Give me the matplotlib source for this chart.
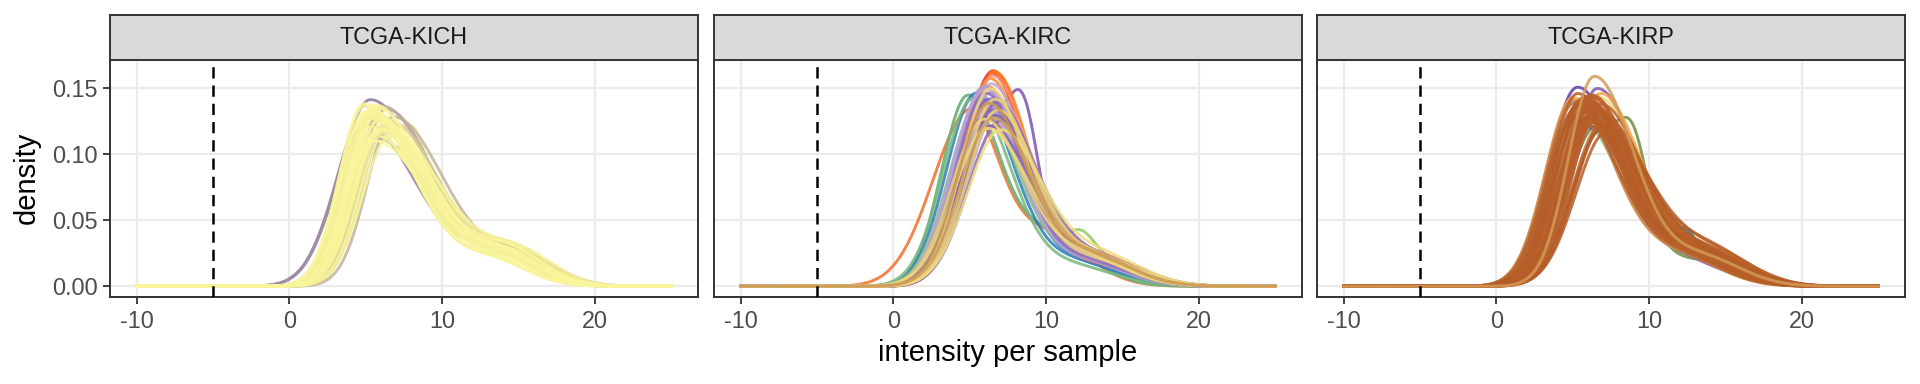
import numpy as np
import matplotlib as mpl
mpl.use('Agg')
import matplotlib.pyplot as plt

plt.rcParams['font.family'] = ['Liberation Sans', 'DejaVu Sans']
plt.rcParams['axes.unicode_minus'] = False

# Data -------------------------------------------------------------------------
panels = ["TCGA-KICH", "TCGA-KIRC", "TCGA-KIRP"]
x_ticks = [-10, 0, 10, 20]
y_ticks = [0.00, 0.05, 0.10, 0.15]
y_tick_labels = ["0.00", "0.05", "0.10", "0.15"]
cutoff = -5
x_min, x_max = -10, 25

# per-sample density curves: mode, height at mode, height of the right shoulder
kich_peak = [5.7, 6.3, 6.8, 5.9, 6.1, 6.5,
             5.7, 5.1, 6.1, 5.9, 4.9, 5.5, 6.4, 5.2, 5.6, 6.2, 5.0, 5.8, 5.3, 6.0,
             5.5, 5.1, 6.6, 5.7, 5.2, 5.9, 6.1, 5.4, 4.9, 5.6]
kich_height = [0.112, 0.134, 0.128, 0.120, 0.136, 0.125,
               0.130, 0.121, 0.118, 0.126, 0.136, 0.114, 0.122, 0.129, 0.137, 0.116, 0.132,
               0.125, 0.132, 0.120, 0.110, 0.131, 0.113, 0.135, 0.127, 0.119, 0.124, 0.133,
               0.138, 0.128]
kich_tail = [0.024, 0.018, 0.021, 0.023, 0.026, 0.019, 0.022, 0.025, 0.020, 0.027,
             0.018, 0.023, 0.021, 0.024, 0.019, 0.026, 0.017, 0.022, 0.020, 0.025, 0.023, 0.021,
             0.024, 0.018, 0.022, 0.026, 0.019, 0.021, 0.020, 0.022]
kich_colors = ["#A28FA2", "#B6A49E", "#C4B49A", "#CDBF97", "#BCAA9C", "#D8CD94",
               "#F3EE98", "#F8F39A", "#FAF69B", "#F6F199", "#EFE797", "#F8F49A", "#FBF79C", "#F4EE98",
               "#F9F59A", "#EAE296", "#FAF69B", "#F7F299", "#F9F59A", "#F2EC98", "#FBF79C", "#F8F39A",
               "#F6F199", "#FAF69B", "#F3EE98", "#F9F59A", "#FBF79C", "#F8F39A", "#FAF69B", "#F9F59A"]

kirc_peak = [5.4, 5.8, 5.2, 5.6, 6.4, 6.5, 6.3, 6.6, 6.1, 6.5, 6.8, 5.9, 6.2,
             6.0, 6.4, 5.8, 6.6, 6.2, 5.9, 6.7, 6.3, 6.1, 6.5, 5.7, 6.9,
             6.2, 6.5, 5.9, 6.8, 6.3, 6.0, 6.6, 7.0,
             6.3, 6.6, 6.1, 6.8, 5.9, 7.0, 6.2, 6.5]
kirc_height = [0.145, 0.140, 0.141, 0.137, 0.160, 0.162, 0.156, 0.161, 0.150, 0.158, 0.140, 0.130, 0.120,
               0.148, 0.152, 0.138, 0.142, 0.135, 0.150, 0.130, 0.145, 0.128, 0.140, 0.143, 0.133,
               0.140, 0.132, 0.126, 0.138, 0.120, 0.145, 0.128, 0.124,
               0.148, 0.140, 0.118, 0.132, 0.125, 0.117, 0.137, 0.126]
kirc_tail = [0.018, 0.016, 0.015, 0.020, 0.018, 0.016, 0.019, 0.018, 0.020, 0.021, 0.023, 0.019, 0.022,
             0.020, 0.018, 0.021, 0.019, 0.022, 0.018, 0.021, 0.020, 0.023, 0.017, 0.021, 0.019,
             0.020, 0.022, 0.024, 0.018, 0.021, 0.019, 0.022, 0.020,
             0.020, 0.022, 0.024, 0.021, 0.022, 0.023, 0.024, 0.021]
kirc_colors = ["#2B7BBA", "#3A88C0", "#78B77E", "#82C08A", "#E8302A", "#F0442B", "#FF8A1C", "#FF7F16",
               "#FB9A35", "#F79476", "#F2A07F", "#F08658", "#F49070",
               "#B8A2D4", "#BCA7D6", "#B39CD0", "#C0ACD9", "#B8A2D4", "#B49ED1", "#BDA8D7", "#B8A2D4",
               "#C2AEDA", "#B5A0D2", "#BAA4D5", "#B8A2D4",
               "#8663B6", "#8B69BA", "#8260B3", "#8966B8", "#8663B6", "#8E6DBC", "#8462B5", "#8966B8",
               "#EDD77A", "#EBD378", "#EFDA7E", "#E9D176", "#EDD77A", "#F0DB80", "#C99550", "#CFA05C"]

kirp_peak = [6.6, 5.8, 5.0, 6.8, 6.6, 6.0, 6.7, 6.2, 5.2,
             5.0, 5.6, 6.9, 5.8, 6.2, 7.1, 5.3, 6.9, 6.1, 5.7, 6.3, 6.5, 5.1, 6.0, 7.2, 5.4, 6.2,
             6.6, 5.8, 6.1, 6.7, 5.5, 6.3, 6.0, 5.9, 6.8, 6.2, 5.6, 7.0, 6.1, 5.2, 6.4, 6.0,
             6.3, 5.7, 6.7, 6.1, 5.9, 6.2, 6.5, 5.4, 6.0, 6.4, 6.2, 6.4]
kirp_height = [0.149, 0.120, 0.142, 0.145, 0.130, 0.138, 0.142, 0.133, 0.128,
               0.140, 0.132, 0.122, 0.143, 0.137, 0.125, 0.145, 0.118, 0.134, 0.139, 0.131, 0.127,
               0.138, 0.124, 0.116, 0.136, 0.144, 0.130, 0.138, 0.125, 0.133, 0.140, 0.128, 0.135,
               0.121, 0.137, 0.142, 0.132, 0.120, 0.139, 0.134, 0.123, 0.136, 0.131, 0.141, 0.129,
               0.138, 0.127, 0.143, 0.133, 0.137, 0.140, 0.130, 0.135, 0.158]
kirp_tail = [0.018, 0.015, 0.022, 0.026, 0.025, 0.022, 0.024, 0.026, 0.024,
             0.022, 0.025, 0.020, 0.023, 0.026, 0.021, 0.024, 0.027, 0.022, 0.025, 0.019, 0.023,
             0.026, 0.021, 0.024, 0.022, 0.025, 0.020, 0.023, 0.027, 0.022, 0.024, 0.021, 0.025,
             0.023, 0.026, 0.020, 0.024, 0.022, 0.025, 0.021, 0.023, 0.026, 0.022, 0.024, 0.020,
             0.025, 0.023, 0.021, 0.026, 0.022, 0.024, 0.023, 0.025, 0.022]
kirp_colors = ["#7F5AB0", "#7557AC", "#FBAA50", "#F9A443", "#8FCBE0", "#B9A5D8", "#F0DB79",
               "#EB6E67", "#86C47B",
               "#C8884F", "#B8602A", "#BE6A36", "#B55C27", "#CB8D57", "#BA6330", "#B55C27", "#BC6733",
               "#B8602A", "#C27440", "#B55C27", "#BA6330", "#BE6A36", "#B8602A", "#B55C27", "#C47A42",
               "#BA6330", "#B55C27", "#BC6733", "#B8602A", "#BA6330", "#B55C27", "#BE6A36", "#B8602A",
               "#B55C27", "#BA6330", "#BC6733", "#B8602A", "#B55C27", "#BA6330", "#B8602A", "#B55C27",
               "#BA6330", "#B8602A", "#B55C27", "#BA6330", "#B8602A", "#B55C27", "#BA6330", "#B8602A",
               "#B55C27", "#BA6330", "#B8602A", "#B55C27", "#D39A55"]

# samples with an odd shape: mode, height, left sd, right sd, bump x, bump height, shoulder x, shoulder height, colour
kich_odd = [(5.3, 0.141, 2.1, 3.4, 0.0, 0.0, 14.0, 0.022, "#9A86A0"),
            (5.0, 0.122, 2.0, 3.4, 0.0, 0.0, 13.5, 0.024, "#A08EA3"),
            (5.6, 0.112, 1.7, 3.2, 8.3, 0.038, 14.0, 0.020, "#F3ED98")]
kirc_odd = [(4.9, 0.126, 2.4, 1.9, 0.0, 0.0, 9.8, 0.040, "#F27E45"),
            (4.8, 0.138, 1.7, 2.0, 0.0, 0.0, 10.0, 0.040, "#6DB37A"),
            (6.0, 0.140, 1.9, 2.3, 12.2, 0.018, 13.0, 0.022, "#9BD36F"),
            (6.3, 0.128, 1.8, 2.3, 8.6, 0.060, 13.5, 0.022, "#8A64BA")]
kirp_odd = [(5.3, 0.150, 1.9, 2.7, 0.0, 0.0, 12.5, 0.020, "#7252AA"),
            (6.3, 0.132, 1.9, 2.6, 12.3, 0.022, 14.0, 0.016, "#2D8CAA"),
            (6.5, 0.120, 1.9, 2.5, 9.0, 0.045, 14.0, 0.018, "#7D9A4E")]

# Shape per panel: left sd, right sd, offset of right shoulder, shoulder sd
shape = {"TCGA-KICH": (1.65, 3.3, 8.5, 2.3),
         "TCGA-KIRC": (2.0, 2.5, 6.5, 2.7),
         "TCGA-KIRP": (1.85, 2.8, 7.0, 2.6)}

curves = {"TCGA-KICH": (kich_peak, kich_height, kich_tail, kich_colors, kich_odd),
          "TCGA-KIRC": (kirc_peak, kirc_height, kirc_tail, kirc_colors, kirc_odd),
          "TCGA-KIRP": (kirp_peak, kirp_height, kirp_tail, kirp_colors, kirp_odd)}


def density(x, peak, height, sl, sr, bump_x, bump_h, tail_x, tail_h, tail_sd):
    sd = np.where(x < peak, sl, sr)
    y = height * np.exp(-(x - peak) ** 2 / (2 * sd ** 2))
    y += bump_h * np.exp(-(x - bump_x) ** 2 / (2 * 0.9 ** 2))
    y += tail_h * np.exp(-(x - tail_x) ** 2 / (2 * tail_sd ** 2))
    return y


# Plot -------------------------------------------------------------------------
fig = plt.figure(figsize=(19.2, 3.84), dpi=100)
lefts = [110, 714, 1317]
width = 588
top, bottom = 60, 297
strip_top = 15

xs = np.linspace(x_min, x_max, 800)
for i, name in enumerate(panels):
    l = lefts[i] / 1920
    ax = fig.add_axes([l, 1 - bottom / 384, width / 1920, (bottom - top) / 384])
    sl0, sr0, off, tsd = shape[name]
    peak, height, tail, colors, odd = curves[name]

    ax.axvline(cutoff, color='black', lw=1.8, dashes=(4.5, 2.8), zorder=3)
    # odd samples first, the regular ones are drawn over them
    for (p, h, sl, sr, bx, bh, tx, th, c) in odd:
        ys = density(xs, p, h, sl, sr, bx, bh, tx, th, tsd)
        ax.plot(xs, ys, color=c, lw=2.1, alpha=0.95, zorder=2)
    for p, h, t, c in zip(peak, height, tail, colors):
        w = np.sqrt(0.135 / h)
        ys = density(xs, p, h, sl0 * w, sr0 * w, 0, 0, p + off, t, tsd)
        ax.plot(xs, ys, color=c, lw=2.1, alpha=0.85, zorder=2)

    ax.set_xlim(-11.75, 26.75)
    ax.set_ylim(-0.0081, 0.171)
    ax.set_xticks(x_ticks)
    ax.set_xticklabels([str(v) for v in x_ticks])
    ax.set_yticks(y_ticks)
    if i == 0:
        ax.set_yticklabels(y_tick_labels)
        ax.tick_params(axis='y', length=5, width=1.3, color='#333333', labelsize=16.8,
                       labelcolor='#4D4D4D', pad=4)
    else:
        ax.tick_params(axis='y', length=0, labelleft=False)
    ax.tick_params(axis='x', length=5, width=1.3, color='#333333', labelsize=16.8,
                   labelcolor='#4D4D4D', pad=4)
    ax.grid(True, color='#EBEBEB', lw=1.6, zorder=0)
    ax.set_axisbelow(True)
    for s in ax.spines.values():
        s.set_color('#333333')
        s.set_linewidth(1.4)

    sax = fig.add_axes([l, 1 - top / 384, width / 1920, (top - strip_top) / 384])
    sax.set_facecolor('#D9D9D9')
    sax.set_xticks([])
    sax.set_yticks([])
    for s in sax.spines.values():
        s.set_color('#333333')
        s.set_linewidth(1.4)
    sax.text(0.5, 0.5, name, ha='center', va='center', fontsize=16.8, color='#1A1A1A',
             transform=sax.transAxes)

fig.text(1008 / 1920, 1 - 353 / 384, "intensity per sample", ha='center', va='center', fontsize=21)
fig.text(27 / 1920, 1 - 178 / 384, "density", ha='center', va='center', rotation=90, fontsize=21)

plt.savefig('out.png', dpi=100)
